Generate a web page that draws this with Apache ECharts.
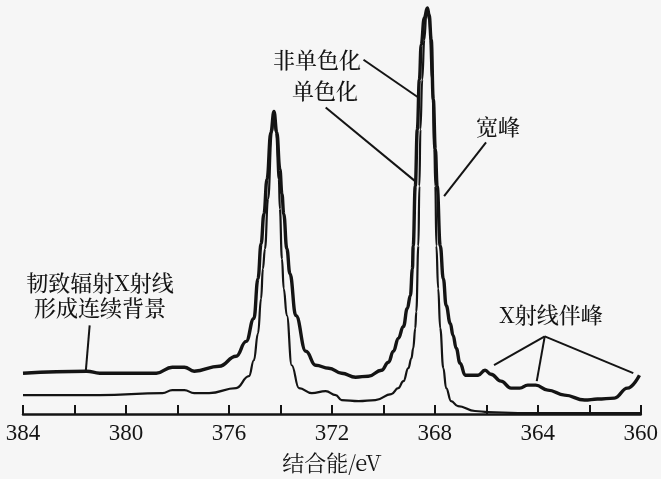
<!DOCTYPE html>
<html><head><meta charset="utf-8">
<script src="https://cdn.jsdelivr.net/npm/echarts@6/dist/echarts.min.js"></script>
<style>html,body{margin:0;padding:0;background:#f6f6f6}#c{width:661px;height:479px}</style>
</head><body><div id="c"></div>
<script>
// Binding energy (eV) and intensity (a.u.)
const nonMonoE = [384.00,381.52,381.02,378.82,378.20,377.73,377.35,376.38,375.72,375.33,375.03,374.87,374.75,374.64,374.52,374.37,374.25,374.14,374.02,373.94,373.87,373.75,373.63,373.40,373.01,372.63,372.12,371.62,371.08,370.58,370.07,369.80,369.61,369.42,369.22,369.07,368.95,368.87,368.84,368.76,368.68,368.60,368.53,368.41,368.29,368.22,368.14,368.06,367.98,367.91,367.79,367.67,367.56,367.40,367.29,367.17,367.02,366.82,366.32,366.05,365.82,365.43,365.04,364.70,364.39,364.08,363.61,362.96,362.18,361.68,361.02,360.52,360.05];
const nonMonoI = [41,43,41,41,47,47,43,48,58,73,96,136,171,201,236,283,304,283,246,221,201,166,141,99,63,49,46,41,37,38,44,52,63,76,88,106,119,146,169,229,286,336,371,398,408,401,376,316,266,229,169,136,109,91,79,66,51,39,39,44,40,33,26,26,29,29,24,19,14,15,16,26,39];
const monoE = [384.00,381.02,378.58,378.20,377.73,377.35,376.77,375.72,375.22,375.03,374.87,374.75,374.68,374.60,374.48,374.33,374.25,374.17,374.06,374.02,373.94,373.87,373.75,373.56,373.28,372.78,372.24,371.85,371.62,370.96,370.31,369.69,369.42,369.22,369.03,368.91,368.84,368.76,368.72,368.64,368.60,368.56,368.49,368.41,368.33,368.29,368.22,368.10,368.02,367.98,367.94,367.87,367.79,367.67,367.56,367.37,367.10,366.44,365.93,364.77,363.23,361.68,360.02];
const monoI = [19,19,21,24,24,21,21,26,38,54,81,116,146,166,216,283,300,283,236,206,156,126,99,49,26,21,23,19,14,13,14,20,26,33,46,56,66,86,103,169,229,286,336,376,401,404,396,336,266,229,169,126,86,46,26,13,8,3,2,1,1,1,1];
const tickValues = [384,380,376,372,368,364,360];
const axisTitle = '结合能/eV';
// Leader lines of the annotations, in data coordinates [E, I]
const leaderNonMono = [[370.77,356],[368.64,318]];
const leaderMono = [[372.24,308],[368.72,233]];
const leaderBroad = [[366.01,273],[367.64,219]];
const leaderBrems = [[381.41,89],[381.56,43]];
const leaderSat1 = [[363.73,78],[365.70,49]];
const leaderSat2 = [[363.73,78],[364.04,33]];
const leaderSat3 = [[363.73,78],[360.29,41]];
const labels = ['非单色化','单色化','宽峰','韧致辐射X射线','形成连续背景','X射线伴峰'];

const zip = (a,b)=>a.map((v,i)=>[v,b[i]]);
const ink = '#141414';
const cjk = '"Noto Serif CJK SC","Noto Sans CJK SC",serif';
const leader = d => ({type:'line', data:d, symbol:'none', silent:true, animation:false,
  lineStyle:{color:ink, width:2}});

const chart = echarts.init(document.getElementById('c'));
chart.setOption({
  backgroundColor:'#f6f6f6',
  animation:false,
  grid:{left:23, right:18, top:0, bottom:63},
  xAxis:{type:'value', inverse:true, min:360, max:384, interval:2,
    axisLine:{lineStyle:{color:ink, width:2.5}},
    axisTick:{inside:true, length:9, lineStyle:{color:ink, width:2}},
    splitLine:{show:false},
    axisLabel:{color:ink, fontSize:23, fontFamily:'"Liberation Serif",serif', margin:8,
      formatter:v=> tickValues.includes(v) ? String(v) : ''},
    name:axisTitle, nameLocation:'middle', nameGap:38,
    nameTextStyle:{color:ink, fontSize:22, fontFamily:cjk}},
  yAxis:{type:'value', min:0, max:416, show:false},
  series:[
    {type:'line', data:zip(nonMonoE,nonMonoI), symbol:'none', smooth:0.45, smoothMonotone:'x',
      lineStyle:{color:ink, width:3.4}},
    {type:'line', data:zip(monoE,monoI), symbol:'none', smooth:0.45, smoothMonotone:'x',
      lineStyle:{color:ink, width:2.2}},
    leader(leaderNonMono), leader(leaderMono), leader(leaderBroad), leader(leaderBrems),
    leader(leaderSat1), leader(leaderSat2), leader(leaderSat3)
  ],
  graphic:[
    [labels[0],317,60],[labels[1],325,91],[labels[2],498,127],
    [labels[3],100,283],[labels[4],100,308],[labels[5],551,315]
  ].map(([t,x,y])=>({type:'text', x:x, y:y, silent:true,
     style:{text:t, fill:ink, font:'500 22px '+cjk, align:'center', verticalAlign:'middle'}}))
});
</script></body></html>
